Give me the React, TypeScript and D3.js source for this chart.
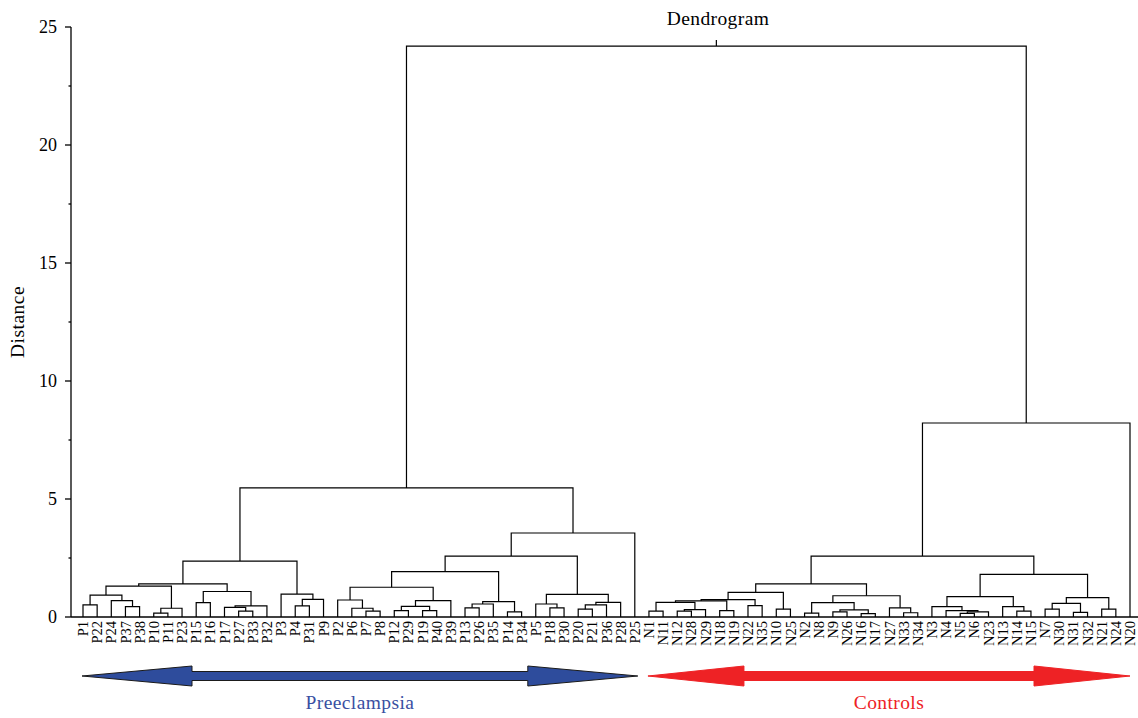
import React from "react";
import * as d3 from "d3";

const leafLabels = [
  "P1","P22","P24","P37","P38","P10","P11","P23","P15","P16","P17","P27","P33","P32",
  "P3","P4","P31","P9","P2","P6","P7","P8","P12","P29","P19","P40","P39","P13","P26",
  "P35","P14","P34","P5","P18","P30","P20","P21","P36","P28","P25",
  "N1","N11","N12","N28","N29","N18","N19","N22","N35","N10","N25","N2","N8","N9","N26",
  "N16","N17","N27","N33","N34","N3","N4","N5","N6","N23","N13","N14","N15","N7","N30",
  "N31","N32","N21","N24","N20",
];

// [id, left, right, distance]
const mergesP: [string, string, string, number][] = [
  ["a1","P1","P22",0.51],
  ["a2","P37","P38",0.44],
  ["a3","P24","a2",0.69],
  ["a4","a1","a3",0.93],
  ["a5","P10","P11",0.16],
  ["a6","a5","P23",0.37],
  ["a7","a4","a6",1.31],
  ["a8","P15","P16",0.61],
  ["a9","P27","P33",0.25],
  ["a10","P17","a9",0.41],
  ["a11","a10","P32",0.47],
  ["a12","a8","a11",1.08],
  ["a13","a7","a12",1.40],
  ["a14","P4","P31",0.47],
  ["a15","a14","P9",0.75],
  ["a16","P3","a15",0.97],
  ["a17","a13","a16",2.37],
  ["a18","P7","P8",0.25],
  ["a19","P6","a18",0.37],
  ["a20","P2","a19",0.72],
  ["a21","P12","P29",0.27],
  ["a22","P19","P40",0.27],
  ["a23","a21","a22",0.45],
  ["a24","a23","P39",0.69],
  ["a25","a20","a24",1.26],
  ["a26","P13","P26",0.39],
  ["a27","a26","P35",0.55],
  ["a28","P14","P34",0.22],
  ["a29","a27","a28",0.65],
  ["a30","a25","a29",1.92],
  ["a31","P18","P30",0.39],
  ["a32","P5","a31",0.55],
  ["a33","P20","P21",0.33],
  ["a34","a33","P36",0.51],
  ["a35","a34","P28",0.62],
  ["a36","a32","a35",0.96],
  ["a37","a30","a36",2.58],
  ["a38","a37","P25",3.56],
  ["a39","a17","a38",5.47],
];

const mergesN: [string, string, string, number][] = [
  ["b1","N1","N11",0.25],
  ["b2","N12","N28",0.25],
  ["b3","b2","N29",0.31],
  ["b4","b1","b3",0.62],
  ["b5","N18","N19",0.27],
  ["b6","b4","b5",0.68],
  ["b7","N22","N35",0.48],
  ["b8","b6","b7",0.74],
  ["b9","N10","N25",0.33],
  ["b10","b8","b9",1.04],
  ["b11","N2","N8",0.16],
  ["b12","N9","N26",0.22],
  ["b13","N16","N17",0.14],
  ["b14","b12","b13",0.30],
  ["b15","b11","b14",0.61],
  ["b16","N33","N34",0.18],
  ["b17","N27","b16",0.39],
  ["b18","b15","b17",0.90],
  ["b19","b10","b18",1.40],
  ["b20","N5","N6",0.15],
  ["b21","b20","N23",0.22],
  ["b22","N4","b21",0.27],
  ["b23","N3","b22",0.44],
  ["b24","N14","N15",0.25],
  ["b25","N13","b24",0.44],
  ["b26","b23","b25",0.86],
  ["b27","N7","N30",0.33],
  ["b28","N31","N32",0.20],
  ["b29","b27","b28",0.58],
  ["b30","N21","N24",0.33],
  ["b31","b29","b30",0.82],
  ["b32","b26","b31",1.81],
  ["b33","b19","b32",2.58],
  ["b34","b33","N20",8.22],
];

const mergeRoot: [string, string, string, number][] = [["root","a39","b34",24.19]];

const yTicks = [0, 5, 10, 15, 20, 25];
const yMinorTicks = [2.5, 7.5, 12.5, 17.5, 22.5];

const groupNames = ["Preeclampsia", "Controls"];
const groupFirst = ["P1", "N1"];
const groupLast = ["P25", "N20"];
const groupFill = ["#2E4C9C", "#EE2225"];
const groupStroke = ["#1b1b1b", "#EE2225"];
const groupText = ["#3A4FA2", "#EE2225"];

const W = 1138;
const H = 718;
const FONT = "'Liberation Serif', 'Times New Roman', serif";

function arrowPath(x0: number, x1: number, cy: number, headL: number, headH: number, shaftH: number) {
  return [
    `M${x0},${cy}`,
    `L${x0 + headL},${cy - headH}`,
    `L${x0 + headL},${cy - shaftH}`,
    `L${x1 - headL},${cy - shaftH}`,
    `L${x1 - headL},${cy - headH}`,
    `L${x1},${cy}`,
    `L${x1 - headL},${cy + headH}`,
    `L${x1 - headL},${cy + shaftH}`,
    `L${x0 + headL},${cy + shaftH}`,
    `L${x0 + headL},${cy + headH}`,
    "Z",
  ].join(" ");
}

export default function App() {
  const x = d3.scalePoint<string>().domain(leafLabels).range([83, 1130]);
  const y = d3.scaleLinear().domain([0, 25]).range([617, 27]);

  const pos: Record<string, { x: number; h: number }> = {};
  leafLabels.forEach((l) => (pos[l] = { x: x(l) as number, h: 0 }));
  const allMerges = [...mergesP, ...mergesN, ...mergeRoot];
  const paths: string[] = [];
  allMerges.forEach(([id, a, b, h]) => {
    const A = pos[a];
    const B = pos[b];
    paths.push(`M${A.x},${y(A.h)} V${y(h)} H${B.x} V${y(B.h)}`);
    pos[id] = { x: (A.x + B.x) / 2, h };
  });
  const root = pos["root"];
  const axisX = 71;

  return (
    <svg width={W} height={H} style={{ position: "absolute", left: 0, top: 0, display: "block", background: "#fff" }}>
      <g fontFamily={FONT}>
        <text x={718} y={25} textAnchor="middle" fontSize={19.5} letterSpacing={0.4}>Dendrogram</text>
        <text transform={`translate(24,${y(12.5)}) rotate(-90)`} textAnchor="middle" fontSize={19.5} letterSpacing={0.5}>Distance</text>

        {/* axis */}
        <line x1={axisX} x2={axisX} y1={y(25)} y2={y(0)} stroke="#000" strokeWidth={1.3} />
        <line x1={axisX} x2={W} y1={y(0)} y2={y(0)} stroke="#000" strokeWidth={1.3} />
        {yTicks.map((t) => (
          <g key={t}>
            <line x1={axisX - 6} x2={axisX} y1={y(t)} y2={y(t)} stroke="#000" strokeWidth={1.3} />
            <text x={axisX - 14} y={y(t)} dy="0.35em" textAnchor="end" fontSize={18}>{t}</text>
          </g>
        ))}
        {yMinorTicks.map((t) => (
          <line key={t} x1={axisX - 2.5} x2={axisX} y1={y(t)} y2={y(t)} stroke="#000" strokeWidth={1.3} />
        ))}

        {/* dendrogram */}
        <g fill="none" stroke="#000" strokeWidth={1.2}>
          {paths.map((p, i) => (
            <path key={i} d={p} />
          ))}
          <line x1={root.x} x2={root.x} y1={y(root.h)} y2={y(root.h) - 6} />
        </g>

        {/* leaf labels */}
        {leafLabels.map((l) => (
          <text key={l} transform={`translate(${x(l)},621) rotate(-90)`} dy="0.35em" textAnchor="end" fontSize={14.5}>
            {l}
          </text>
        ))}

        {/* group arrows */}
        {groupNames.map((g, i) => {
          const x0 = (x(groupFirst[i]) as number) - 1;
          const x1 = (x(groupLast[i]) as number) + (i === 0 ? 3 : 0);
          const headL = i === 0 ? 110 : 96;
          return (
            <g key={g}>
              <path d={arrowPath(x0, x1, 676, headL, 10, 4.5)} fill={groupFill[i]} stroke={groupStroke[i]} strokeWidth={1} />
              <text x={(x0 + x1) / 2} y={709} textAnchor="middle" fontSize={19.5} letterSpacing={0.4} fill={groupText[i]}>{g}</text>
            </g>
          );
        })}
      </g>
    </svg>
  );
}
